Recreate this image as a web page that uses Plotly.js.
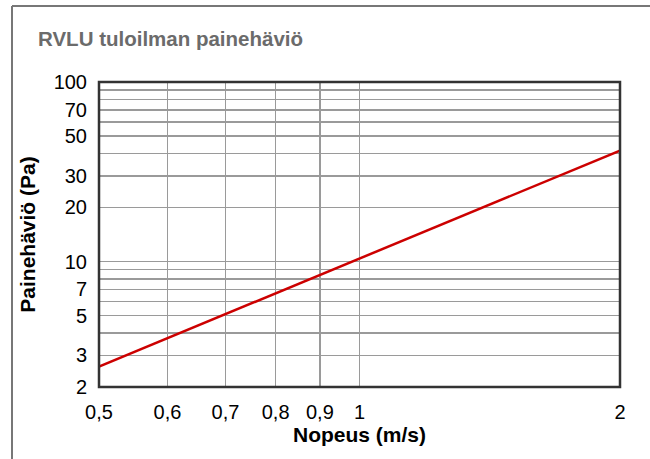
<!DOCTYPE html>
<html>
<head>
<meta charset="utf-8">
<script src="https://cdn.plot.ly/plotly-3.0.1.min.js"></script>
<style>
html,body{margin:0;padding:0;background:#fff;}
#chart{width:650px;height:459px;}
</style>
</head>
<body>
<div id="chart"></div>
<script>
// Data
const speed = [0.5, 1, 2];            // Nopeus (m/s)
const pressureDrop = [2.6, 10.4, 41.5]; // Painehäviö (Pa)

const xTickVals = [0.5, 0.6, 0.7, 0.8, 0.9, 1, 2];
const xTickText = ['0,5', '0,6', '0,7', '0,8', '0,9', '1', '2'];
const yTickVals = [2, 3, 4, 5, 6, 7, 8, 9, 10, 20, 30, 40, 50, 60, 70, 80, 90, 100];
const yTickText = ['2', '3', '', '5', '', '7', '', '', '10', '20', '30', '', '50', '', '70', '', '', '100'];

const trace = {
  x: speed,
  y: pressureDrop,
  type: 'scatter',
  mode: 'lines',
  line: {color: '#cc0000', width: 2.5},
  hoverinfo: 'skip'
};

const L = 99, R = 30, T = 82, B = 72;
const pw = 650 - L - R, ph = 459 - T - B;
const fx = (px) => (px - L) / pw;
const fy = (py) => (459 - B - py) / ph;

const layout = {
  width: 650,
  height: 459,
  margin: {l: L, r: R, t: T, b: B, pad: 0},
  paper_bgcolor: '#ffffff',
  plot_bgcolor: '#ffffff',
  showlegend: false,
  font: {family: 'Liberation Sans, Arial, sans-serif', color: '#000'},
  title: {
    text: 'RVLU tuloilman painehäviö',
    font: {family: 'Liberation Sans, Arial, sans-serif', size: 20.5, color: '#6b6b6b', weight: 'bold'},
    x: 38 / 650, xanchor: 'left', xref: 'container',
    y: 1 - 39 / 459, yanchor: 'middle', yref: 'container'
  },
  xaxis: {
    type: 'log',
    range: [Math.log10(0.5), Math.log10(2)],
    tickvals: xTickVals,
    ticktext: xTickText,
    ticks: '',
    ticklabelstandoff: 11,
    tickfont: {size: 20, color: '#000'},
    showgrid: true,
    gridcolor: '#9a9a9a',
    gridwidth: 1.5,
    zeroline: false,
    showline: false,
    title: {text: 'Nopeus (m/s)', font: {size: 21, color: '#000', weight: 'bold'}, standoff: 3}
  },
  yaxis: {
    type: 'log',
    range: [Math.log10(2), Math.log10(100)],
    tickvals: yTickVals,
    ticktext: yTickText,
    ticks: '',
    ticklabelstandoff: 11,
    tickfont: {size: 20, color: '#000'},
    showgrid: true,
    gridcolor: '#9a9a9a',
    gridwidth: 1.5,
    zeroline: false,
    showline: false,
    title: {text: 'Painehäviö (Pa)', font: {size: 21, color: '#000', weight: 'bold'}, standoff: 12}
  },
  shapes: [
    {type: 'rect', xref: 'paper', yref: 'paper', x0: 0, x1: 1, y0: 0, y1: 1,
     line: {color: '#333333', width: 2.5}, fillcolor: 'rgba(0,0,0,0)', layer: 'above'},
    {type: 'line', xref: 'paper', yref: 'paper', x0: fx(12), x1: fx(12), y0: fy(6), y1: fy(470),
     line: {color: '#777777', width: 2}},
    {type: 'line', xref: 'paper', yref: 'paper', x0: fx(12), x1: fx(660), y0: fy(6), y1: fy(6),
     line: {color: '#777777', width: 2}}
  ]
};

Plotly.newPlot('chart', [trace], layout, {displayModeBar: false, staticPlot: true});
</script>
</body>
</html>
